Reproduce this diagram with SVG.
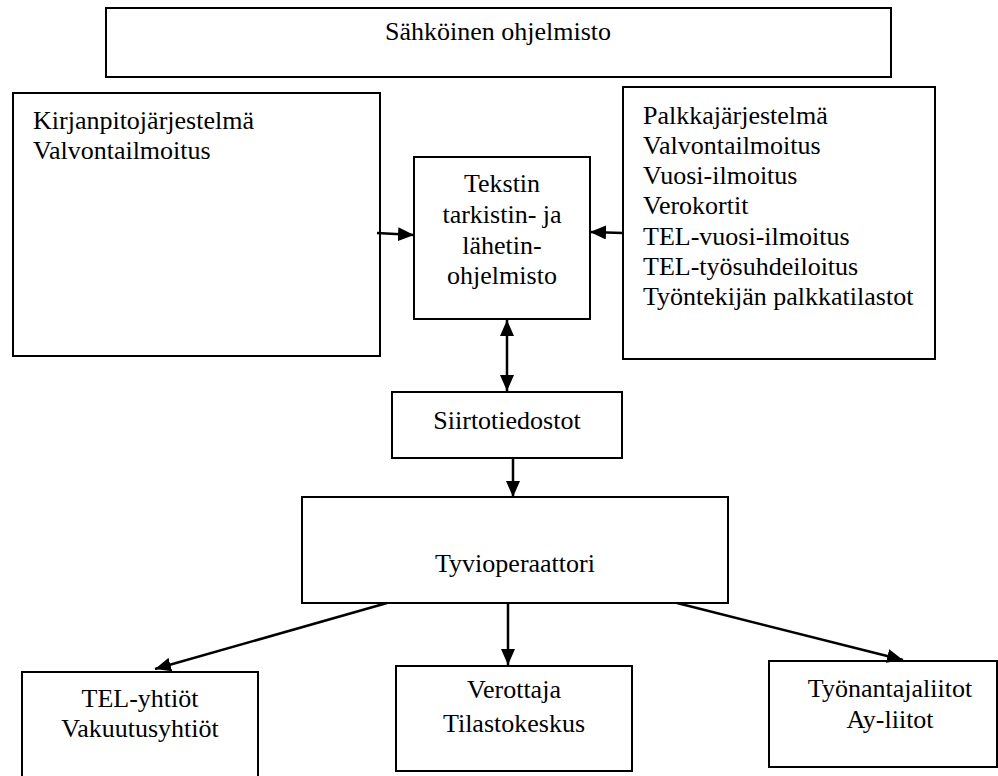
<svg xmlns="http://www.w3.org/2000/svg" width="998" height="776" viewBox="0 0 998 776">
<defs>
<style>
.box{fill:#fff;stroke:#000;stroke-width:2}
text{font-family:"Liberation Serif","Times New Roman",Times,serif;font-size:26px;fill:#000}
.c{text-anchor:middle}
.ln{fill:none;stroke:#000;stroke-width:2.5}
</style>
<marker id="ah" markerUnits="userSpaceOnUse" markerWidth="17" markerHeight="14" refX="16" refY="7" orient="auto-start-reverse">
<path d="M0,0 L16,7 L0,14 Z" fill="#000"/>
</marker>
</defs>
<rect width="998" height="776" fill="#fff"/>
<g id="sahkoinen">
<rect class="box" x="106" y="8" width="785" height="69"/>
<text class="c" x="498" y="40">Sähköinen ohjelmisto</text>
</g>
<g id="kirjanpito">
<rect class="box" x="13" y="93" width="367" height="263"/>
<text x="33" y="129">Kirjanpitojärjestelmä</text>
<text x="33" y="159">Valvontailmoitus</text>
</g>
<g id="tarkistin">
<rect class="box" x="414" y="157" width="176" height="162"/>
<text class="c" x="502" y="192">Tekstin</text>
<text class="c" x="502" y="223">tarkistin- ja</text>
<text class="c" x="502" y="254">lähetin-</text>
<text class="c" x="502" y="284">ohjelmisto</text>
</g>
<g id="palkka">
<rect class="box" x="623" y="87" width="312" height="272"/>
<text x="643" y="124">Palkkajärjestelmä</text>
<text x="643" y="154">Valvontailmoitus</text>
<text x="643" y="184">Vuosi-ilmoitus</text>
<text x="643" y="214">Verokortit</text>
<text x="643" y="245">TEL-vuosi-ilmoitus</text>
<text x="643" y="275">TEL-työsuhdeiloitus</text>
<text x="643" y="305">Työntekijän palkkatilastot</text>
</g>
<g id="siirto">
<rect class="box" x="392" y="392" width="230" height="66"/>
<text class="c" x="507" y="429">Siirtotiedostot</text>
</g>
<g id="tyvi">
<rect class="box" x="302" y="497" width="426" height="106"/>
<text class="c" x="515" y="572">Tyvioperaattori</text>
</g>
<g id="tel">
<rect class="box" x="22" y="672" width="236" height="110"/>
<text class="c" x="140" y="707">TEL-yhtiöt</text>
<text class="c" x="140" y="737">Vakuutusyhtiöt</text>
</g>
<g id="verottaja">
<rect class="box" x="396" y="666" width="236" height="105"/>
<text class="c" x="514" y="698">Verottaja</text>
<text class="c" x="514" y="732">Tilastokeskus</text>
</g>
<g id="tyonantaja">
<rect class="box" x="769" y="661" width="228" height="106"/>
<text class="c" x="890" y="697">Työnantajaliitot</text>
<text class="c" x="890" y="728">Ay-liitot</text>
</g>
<g id="connectors">
<line class="ln" x1="377" y1="233" x2="414" y2="235" marker-end="url(#ah)"/>
<line class="ln" x1="623" y1="233" x2="590" y2="232" marker-end="url(#ah)"/>
<line class="ln" x1="507" y1="320" x2="507" y2="391" marker-start="url(#ah)" marker-end="url(#ah)"/>
<line class="ln" x1="513" y1="458" x2="513" y2="497" marker-end="url(#ah)"/>
<line class="ln" x1="387" y1="603" x2="155" y2="669" marker-end="url(#ah)"/>
<line class="ln" x1="508" y1="603" x2="508" y2="665" marker-end="url(#ah)"/>
<line class="ln" x1="677" y1="603" x2="903" y2="660" marker-end="url(#ah)"/>
</g>
</svg>
